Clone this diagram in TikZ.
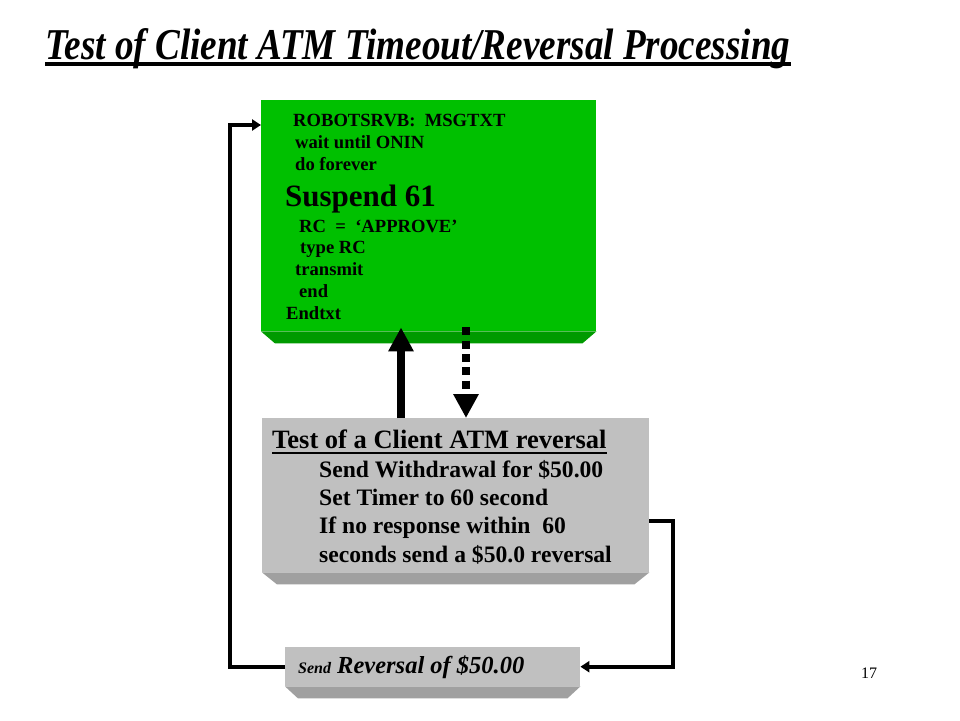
\documentclass[tikz,border=0pt]{standalone}
\usepackage{fontspec}
\setmainfont{Liberation Serif}
\usepackage{tikz}
\usetikzlibrary{arrows.meta, calc}

\definecolor{slabgreen}{HTML}{00C000}
\definecolor{slabgreendark}{HTML}{009A00}
\definecolor{slabgray}{HTML}{C0C0C0}
\definecolor{slabgraydark}{HTML}{A0A0A0}

\tikzset{
  slab/.style={rectangle, inner sep=0pt, anchor=north west},
  codeline/.style={anchor=base west, inner sep=0pt, font=\bfseries\fontsize{18.6}{21}\selectfont},
  stepline/.style={anchor=base west, inner sep=0pt, font=\bfseries\fontsize{23.6}{26}\selectfont},
  loopline/.style={line width=4pt, -{Triangle[width=11pt,length=9pt]}},
  bigarrow/.style={line width=8pt, -{Triangle[width=24pt,length=24pt]}}
}

% bottom edge of a box
\newcommand{\bevel}[3]{\fill[#2] (#1.south west) -- (#1.south east) -- ++(-#3,12) -- ($(#1.south west)+(#3,12)$) -- cycle;}

\begin{document}
\begin{tikzpicture}[x=1pt, y=-1pt]
\useasboundingbox (0,0) rectangle (960,720);

% title
\node[anchor=base west, inner sep=0pt, font=\bfseries\itshape\fontsize{44}{50}\selectfont] (title) at (45,59) {\scalebox{0.844}[1]{Test of Client ATM Timeout/Reversal Processing}};
\draw[line width=4pt] ([yshift=-5pt]title.base west) -- ([yshift=-5pt]title.base east);

% boxes
\node[slab, fill=slabgreen, minimum width=335pt, minimum height=231pt] (green) at (261,100) {};
\bevel{green}{slabgreendark}{14}
\node[slab, fill=slabgray, minimum width=387pt, minimum height=154pt] (gray) at (262,418) {};
\bevel{gray}{slabgraydark}{15}
\node[slab, fill=slabgray, minimum width=295pt, minimum height=39pt] (send) at (285,647) {};
\bevel{send}{slabgraydark}{13}

% robot script
\node[codeline] (c1) at (293,126) {ROBOTSRVB:~ MSGTXT};
\node[codeline] (c2) at (295,148) {wait until ONIN};
\node[codeline] (c3) at (295,170) {do forever};
\node[codeline, font=\bfseries\fontsize{31}{34}\selectfont] (c4) at (285,206) {Suspend 61};
\node[codeline] (c5) at (299,232) {RC~ =~ ‘APPROVE’};
\node[codeline] (c6) at (300,253) {type RC};
\node[codeline] (c7) at (295,275) {transmit};
\node[codeline] (c8) at (299,297) {end};
\node[codeline] (c9) at (286,319) {Endtxt};

% reversal test
\node[stepline, font=\bfseries\fontsize{26.5}{30}\selectfont] (t0) at (272,448) {Test of a Client ATM reversal};
\draw[line width=2pt] ([yshift=-5pt]t0.base west) -- ([yshift=-5pt]t0.base east);
\node[stepline] (t1) at (319,477) {Send Withdrawal for \$50.00};
\node[stepline] (t2) at (319,505) {Set Timer to 60 second};
\node[stepline] (t3) at (319,533) {If no response within~ 60};
\node[stepline] (t4) at (319,562) {seconds send a \$50.0 reversal};

\node[anchor=base west, inner sep=0pt, font=\bfseries\itshape\fontsize{24.5}{28}\selectfont] (s1) at (298,673) {{\fontsize{16}{20}\selectfont Send} Reversal of \$50.00};

\node[anchor=base west, inner sep=0pt, font=\fontsize{16}{20}\selectfont] (page) at (861,678) {17};

% connectors
\coordinate (upx) at (401,0);
\coordinate (dnx) at (466,0);
\draw[bigarrow] (gray.north -| upx) -- ([yshift=4pt]green.south -| upx);
\draw[bigarrow, dash pattern=on 8pt off 5.3pt] ([yshift=4pt]green.south -| dnx) -- (gray.north -| dnx);
\draw[loopline] ([yshift=-26pt]gray.east) -- ++(24,0) |- (send.east);
\draw[loopline] (send.west) -- ++(-55,0) |- ([yshift=-25pt]green.north west);
\end{tikzpicture}
\end{document}
